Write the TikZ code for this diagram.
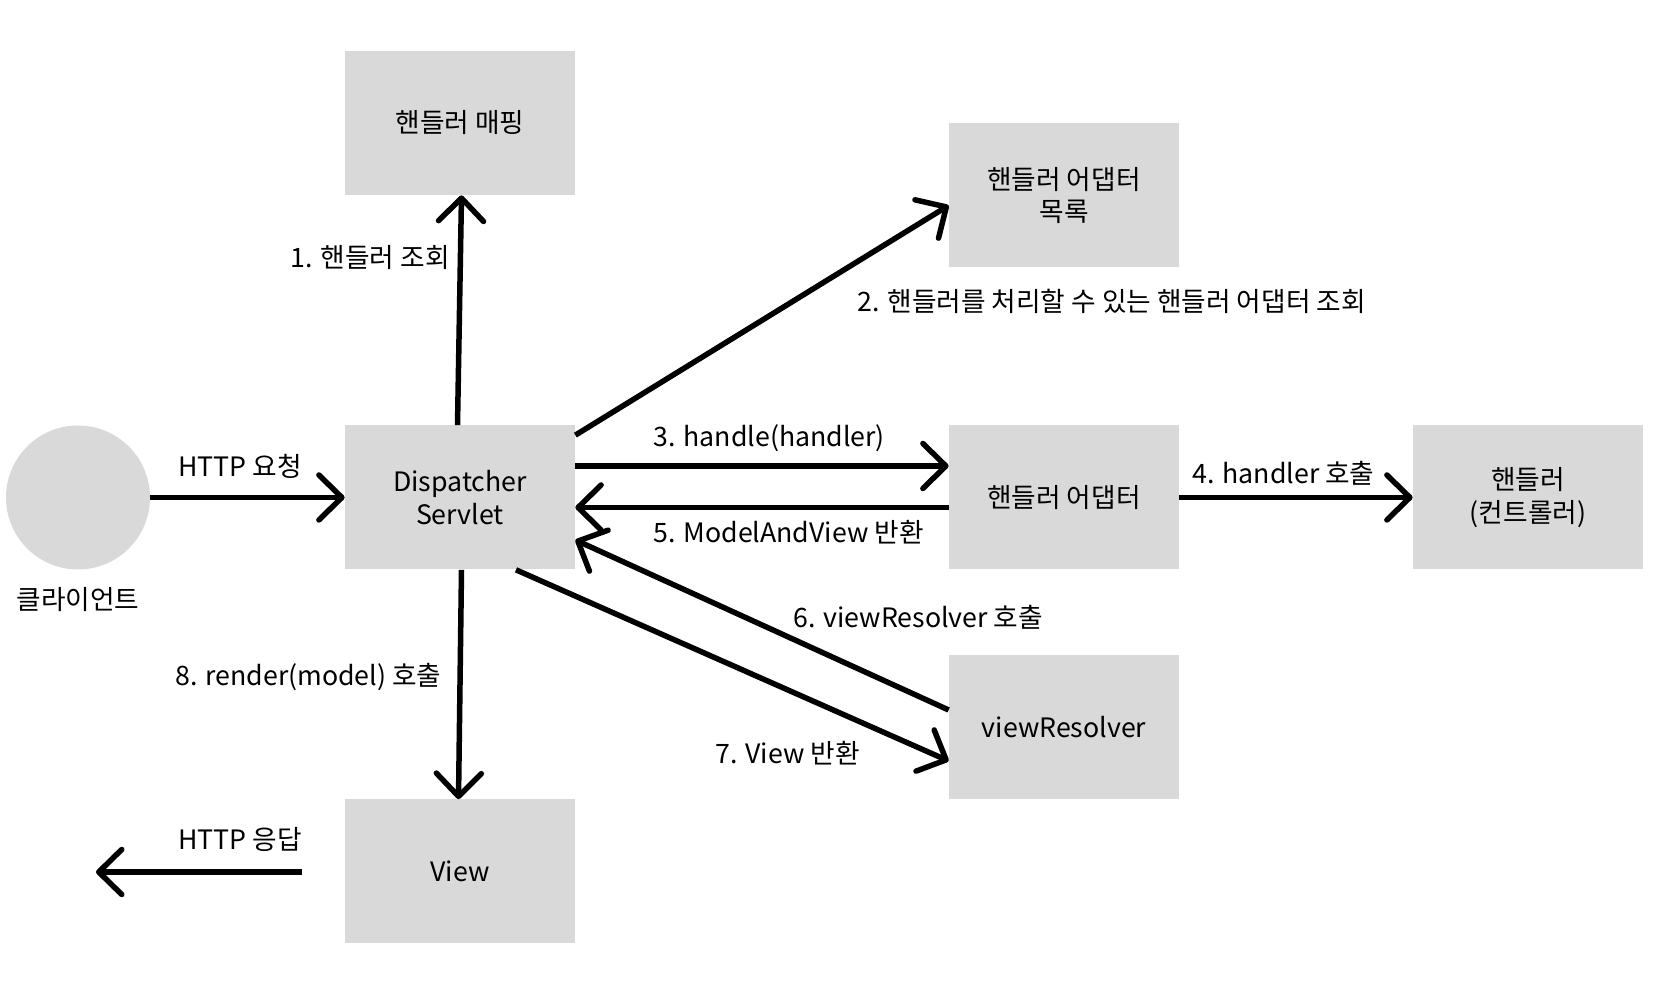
\documentclass[tikz,border=0pt]{standalone}
\usepackage{fontspec}
\setmainfont{Noto Sans CJK KR}
\usetikzlibrary{arrows.meta}
\definecolor{boxgray}{HTML}{D9D9D9}

\begin{document}
\begin{tikzpicture}[
	box/.style={fill=boxgray,minimum width=4.6cm,minimum height=2.88cm,align=center,inner sep=0},
	tag/.style={inner sep=0,anchor=west},
	flow/.style={line width=0.11cm,-{Straight Barb[length=0.46cm,width=0.9cm,round]}},
	font=\fontsize{15.2}{18.5}\selectfont]
	\useasboundingbox (0,0) rectangle (33.5,20.1);

	\node [circle,fill=boxgray,minimum size=2.88cm,inner sep=0] (client) at (1.56,10.15) {};
	\node [] (clientname) at (1.56,8.1) {클라이언트};

	\node [box] (disp) at (9.2,10.15) {Dispatcher\\Servlet};
	\node [box] (map) at (9.2,17.64) {핸들러 매핑};
	\node [box] (alist) at (21.28,16.19) {핸들러 어댑터\\목록};
	\node [box] (adapter) at (21.28,10.15) {핸들러 어댑터};
	\node [box] (handler) at (30.56,10.15) {핸들러\\(컨트롤러)};
	\node [box] (resolver) at (21.28,5.55) {viewResolver};
	\node [box] (view) at (9.2,2.67) {View};

	\coordinate (respfrom) at (6.04,2.66);
	\coordinate (respto) at (1.92,2.66);

	\draw [flow] (client.east) -- (disp.west);
	\draw [flow] ([xshift=-0.05cm]disp.north) -- ([xshift=0.03cm]map.south);
	\draw [flow] ([yshift=-0.2cm]disp.north east) -- ([yshift=-0.2cm]alist.west);
	\draw [flow] ([yshift=0.63cm]disp.east) -- ([yshift=0.63cm]adapter.west);
	\draw [flow] ([yshift=-0.2cm]adapter.west) -- ([yshift=-0.2cm]disp.east);
	\draw [flow] (adapter.east) -- (handler.west);
	\draw [flow] ([yshift=0.35cm]resolver.west) -- ([yshift=-0.85cm]disp.east);
	\draw [flow] ([xshift=1.12cm]disp.south) -- ([yshift=-0.67cm]resolver.west);
	\draw [flow] ([xshift=0.03cm]disp.south) -- ([xshift=-0.03cm]view.north);
	\draw [flow] (respfrom) -- (respto);

	\node [tag] (req) at (3.56,10.78) {HTTP 요청};
	\node [tag] (resp) at (3.56,3.3) {HTTP 응답};
	\node [tag,anchor=east] (step1) at (9.0,14.94) {1. 핸들러 조회};
	\node [tag] (step2) at (17.14,14.08) {2. 핸들러를 처리할 수 있는 핸들러 어댑터 조회};
	\node [tag] (step3) at (13.06,11.34) {3. handle(handler)};
	\node [tag] (step4) at (23.84,10.64) {4. handler 호출};
	\node [tag] (step5) at (13.06,9.46) {5. ModelAndView 반환};
	\node [tag] (step6) at (15.86,7.76) {6. viewResolver 호출};
	\node [tag] (step7) at (14.3,5.04) {7. View 반환};
	\node [tag] (step8) at (3.5,6.56) {8. render(model) 호출};
\end{tikzpicture}
\end{document}
